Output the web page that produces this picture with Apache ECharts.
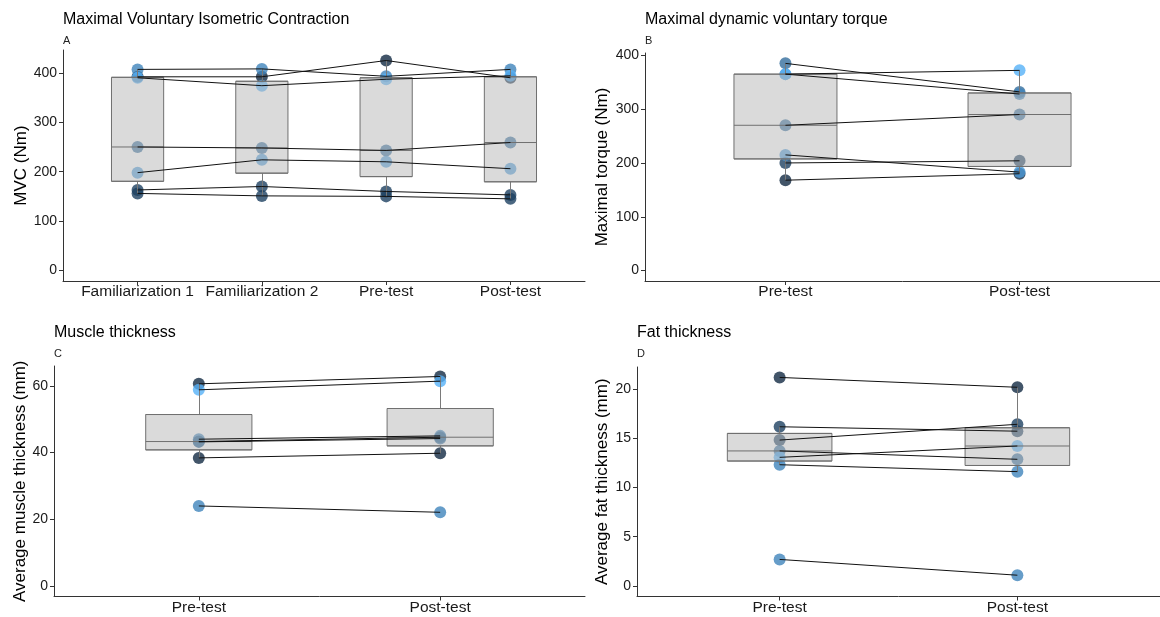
<!DOCTYPE html>
<html>
<head>
<meta charset="utf-8">
<script src="https://cdn.jsdelivr.net/npm/echarts@6/dist/echarts.min.js"></script>
<style>
  html, body { margin: 0; background: #fff; }
  #chart { width: 1160px; height: 617px; }
</style>
</head>
<body>
<div id="chart"></div>
<script>
// time points
const mvcTimes = ['Familiarization 1', 'Familiarization 2', 'Pre-test', 'Post-test'];
const prePost = ['Pre-test', 'Post-test'];

// A: MVC (Nm), one value per subject, same subject order in every array
const mvcFam1 = [392, 407, 390, 250, 198, 163, 156];
const mvcFam2 = [392, 408, 374, 248, 224, 170, 151];
const mvcPre = [425, 393, 387, 243, 220, 160, 150];
const mvcPost = [390, 407, 394, 259, 206, 153, 145];
const mvcTicks = [0, 100, 200, 300, 400];

// B: maximal dynamic torque (Nm)
const torquePre = [168, 200, 270, 385, 365, 215, 365];
const torquePost = [180, 204, 290, 332, 328, 183, 372];
const torqueTicks = [0, 100, 200, 300, 400];

// C: muscle thickness (mm)
const musclePre = [60.6, 58.8, 44, 43.3, 43.2, 38.4, 24];
const musclePost = [62.8, 61.4, 45, 44.6, 44.2, 39.8, 22.1];
const muscleTicks = [0, 20, 40, 60];

// D: fat thickness (mm)
const fatPre = [21.15, 16.15, 14.8, 13.7, 13.05, 12.3, 2.7];
const fatPost = [20.15, 15.7, 16.4, 12.85, 14.2, 11.6, 1.1];
const fatTicks = [0, 5, 10, 15, 20];

// point colour (index into shadeColors) for each subject
const mvcShade = [0, 4, 6, 3, 5, 1, 1];
const torqueShade = [0, 1, 3, 3, 4, 5, 6];
const muscleShade = [0, 6, 4, 3, 3, 0, 4];
const fatShade = [0, 1, 1, 3, 6, 4, 4];

const shadeColors = ['#132B43', '#1E4161', '#29587F', '#346E9D', '#4084BB', '#4B9BD9', '#56B1F7'];
const FONT = '"Liberation Sans", Arial, sans-serif';
const AXIS = '#333';

const panels = [
  { title: 'Maximal Voluntary Isometric Contraction', letter: 'A', labels: mvcTimes,
    cols: [mvcFam1, mvcFam2, mvcPre, mvcPost], shades: mvcShade, ticks: mvcTicks,
    yName: 'MVC (Nm)', nameGap: 33, titleTop: 12, grid: { left: 63, right: 575, top: 50, height: 231 } },
  { title: 'Maximal dynamic voluntary torque', letter: 'B', labels: prePost,
    cols: [torquePre, torquePost], shades: torqueShade, ticks: torqueTicks,
    yName: 'Maximal torque (Nm)', nameGap: 34, titleTop: 12, grid: { left: 645, right: -9, top: 53, height: 228 } },
  { title: 'Muscle thickness', letter: 'C', labels: prePost,
    cols: [musclePre, musclePost], shades: muscleShade, ticks: muscleTicks,
    yName: 'Average muscle thickness (mm)', nameGap: 25, titleTop: 325, grid: { left: 54, right: 575, top: 366, height: 230.5 } },
  { title: 'Fat thickness', letter: 'D', labels: prePost,
    cols: [fatPre, fatPost], shades: fatShade, ticks: fatTicks,
    yName: 'Average fat thickness (mm)', nameGap: 26, titleTop: 325, grid: { left: 637, right: -9, top: 367, height: 229.5 } }
];

// quantile type 7 (same as R's default)
function quantile(sorted, p) {
  const h = (sorted.length - 1) * p;
  const lo = Math.floor(h);
  const next = lo + 1 < sorted.length ? sorted[lo + 1] : sorted[lo];
  return sorted[lo] + (h - lo) * (next - sorted[lo]);
}

function boxStats(values) {
  const s = values.slice().sort((a, b) => a - b);
  const q1 = quantile(s, 0.25);
  const med = quantile(s, 0.5);
  const q3 = quantile(s, 0.75);
  const iqr = q3 - q1;
  const inside = s.filter(v => v >= q1 - 1.5 * iqr && v <= q3 + 1.5 * iqr);
  return { q1, med, q3, lo: inside[0], hi: inside[inside.length - 1] };
}

const option = { animation: false, title: [], grid: [], xAxis: [], yAxis: [], series: [] };

panels.forEach((p, i) => {
  const top = Math.max(...p.cols.flat());
  const idx = p.labels.map((_, t) => t + 1);
  const stats = p.cols.map(boxStats);
  const axisCommon = { gridIndex: i, splitLine: { show: false } };

  option.grid.push(p.grid);
  option.title.push({
    text: p.title, left: p.grid.left, top: p.titleTop, padding: 0,
    textStyle: { fontSize: 16, fontWeight: 'normal', color: '#000', fontFamily: FONT }
  });
  option.title.push({
    text: p.letter, left: p.grid.left, top: p.titleTop + 23, padding: 0,
    textStyle: { fontSize: 11, fontWeight: 'normal', color: '#222', fontFamily: FONT }
  });

  option.xAxis.push({
    ...axisCommon, type: 'value', min: 0.4, max: p.labels.length + 0.6,
    axisLine: { show: true, onZero: false, lineStyle: { color: AXIS, width: 1 } },
    axisTick: { show: true, customValues: idx, length: 4, lineStyle: { color: AXIS } },
    axisLabel: {
      customValues: idx, formatter: v => p.labels[Math.round(v) - 1],
      margin: 3, fontSize: 15.5, color: '#1a1a1a', fontFamily: FONT
    }
  });
  option.yAxis.push({
    ...axisCommon, type: 'value', min: -0.05 * top, max: 1.05 * top,
    name: p.yName, nameLocation: 'middle', nameGap: p.nameGap,
    nameTextStyle: { fontSize: 17, color: '#000', fontFamily: FONT },
    axisLine: { show: true, onZero: false, lineStyle: { color: AXIS, width: 1 } },
    axisTick: { show: true, customValues: p.ticks, length: 4, lineStyle: { color: AXIS } },
    axisLabel: { customValues: p.ticks, margin: 6, fontSize: 14, color: '#1a1a1a', fontFamily: FONT }
  });

  // points and subject lines
  p.cols[0].forEach((_, s) => {
    const pts = p.cols.map((col, t) => [t + 1, col[s]]);
    option.series.push({
      type: 'scatter', xAxisIndex: i, yAxisIndex: i, data: pts, symbolSize: 12, z: 2, silent: true,
      itemStyle: { color: shadeColors[p.shades[s]], opacity: 0.8 }
    });
    option.series.push({
      type: 'line', xAxisIndex: i, yAxisIndex: i, data: pts, symbol: 'none', z: 4, silent: true,
      lineStyle: { color: '#111', width: 1 }
    });
  });

  // box (no caps) + whiskers
  option.series.push({
    type: 'boxplot', xAxisIndex: i, yAxisIndex: i, z: 3, silent: true, boxWidth: ['40%', '40%'],
    data: stats.map((b, t) => [t + 1, b.q1, b.q1, b.med, b.q3, b.q3]),
    itemStyle: { color: 'rgba(181,181,181,0.5)', borderColor: '#707070', borderWidth: 1 }
  });
  option.series.push({
    type: 'lines', coordinateSystem: 'cartesian2d', xAxisIndex: i, yAxisIndex: i, z: 3, silent: true,
    data: stats.flatMap((b, t) => [
      { coords: [[t + 1, b.q3], [t + 1, b.hi]] },
      { coords: [[t + 1, b.lo], [t + 1, b.q1]] }
    ]),
    lineStyle: { color: '#7a7a7a', width: 1, opacity: 1 }
  });
});

const myChart = echarts.init(document.getElementById('chart'));
myChart.setOption(option);
</script>
</body>
</html>
